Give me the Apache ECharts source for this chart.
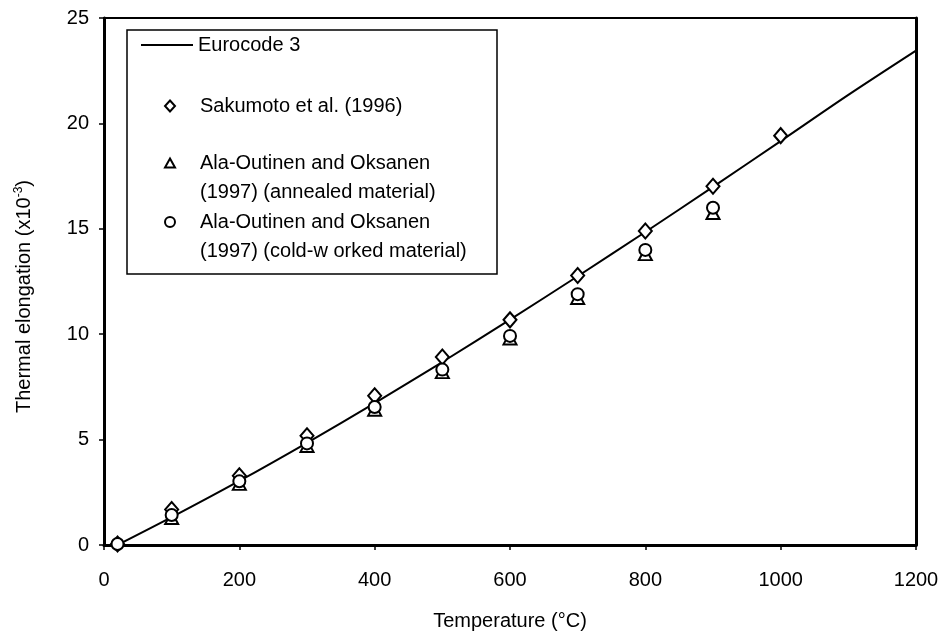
<!DOCTYPE html>
<html>
<head>
<meta charset="utf-8">
<script src="https://cdn.jsdelivr.net/npm/echarts@6/dist/echarts.min.js"></script>
<style>
  html, body { margin: 0; padding: 0; background: #fff; }
  #chart { width: 943px; height: 636px; }
</style>
</head>
<body>
<div id="chart"></div>
<script>
// Thermal elongation of stainless steel vs temperature
const FONT = '"Liberation Sans", Arial, sans-serif';

// Eurocode 3 curve (temperature in °C, elongation in x10^-3)
const ecTemps  = [20, 100, 200, 300, 400, 500, 600, 700, 800, 900, 1000, 1100, 1200];
const ecValues = [0, 1.32, 3.04, 4.85, 6.73, 8.68, 10.69, 12.75, 14.85, 16.99, 19.16, 21.35, 23.45];

// Sakumoto et al. (1996)
const sakTemps  = [20, 100, 200, 300, 400, 500, 600, 700, 800, 900, 1000];
const sakValues = [0.05, 1.68, 3.28, 5.18, 7.08, 8.92, 10.68, 12.78, 14.9, 17.02, 19.42];

// Ala-Outinen and Oksanen (1997), annealed material
const annTemps  = [20, 100, 200, 300, 400, 500, 600, 700, 800, 900];
const annValues = [-0.05, 1.28, 2.9, 4.7, 6.42, 8.2, 9.8, 11.72, 13.8, 15.75];

// Ala-Outinen and Oksanen (1997), cold-worked material
const cwTemps  = [20, 100, 200, 300, 400, 500, 600, 700, 800, 900];
const cwValues = [0.05, 1.42, 3.02, 4.82, 6.55, 8.32, 9.92, 11.9, 14.0, 16.0];

const xTicks = { min: 0, max: 1200, interval: 200 };
const yTicks = { min: 0, max: 25, interval: 5 };

// Series names; the two-line entries are split into first line (legend) and second line (note)
const ecName  = 'Eurocode 3';
const sakName = 'Sakumoto et al. (1996)';
const annName = ['Ala-Outinen and Oksanen', '(1997) (annealed material)'];
const cwName  = ['Ala-Outinen and Oksanen', '(1997) (cold-w orked material)'];

const annKey = annName.join(' ');
const cwKey = cwName.join(' ');

const pairs = (xs, ys) => xs.map((x, i) => [x, ys[i]]);

const markerStyle = { color: '#fff', borderColor: '#000', borderWidth: 2, opacity: 1 };
const iconStyle = { color: '#fff', borderColor: '#000', borderWidth: 2, opacity: 1 };

const legendText = { fontFamily: FONT, fontSize: 20, lineHeight: 30, color: '#000' };
const legendTextPad = Object.assign({}, legendText, { padding: [0, 0, 0, 20] });

const firstLine = name => (name === annKey ? annName[0] : name === cwKey ? cwName[0] : name);

const chart = echarts.init(document.getElementById('chart'), null, { renderer: 'canvas' });

chart.setOption({
  backgroundColor: '#fff',
  animation: false,
  grid: {
    left: 104, right: 27, top: 18, bottom: 91,
    show: true, borderColor: '#000', borderWidth: 2
  },
  graphic: [
    {
      type: 'rect', z: 50,
      shape: { x: 127, y: 30, width: 370, height: 244 },
      style: { fill: '#fff', stroke: '#000', lineWidth: 1.5 }
    },
    {
      type: 'text', z: 60, x: 200, y: 192,
      style: { text: annName[1], font: '20px ' + FONT, fill: '#000', verticalAlign: 'middle' }
    },
    {
      type: 'text', z: 60, x: 200, y: 251,
      style: { text: cwName[1], font: '20px ' + FONT, fill: '#000', verticalAlign: 'middle' }
    }
  ],
  legend: [
    { data: [{ name: ecName, icon: 'rect', itemStyle: { color: '#000', borderWidth: 0, opacity: 1 } }],
      left: 141, top: 30, padding: 0, itemWidth: 52, itemHeight: 2,
      textStyle: legendText, z: 60, selectedMode: false },
    { data: [{ name: sakName, icon: 'diamond', itemStyle: iconStyle }],
      left: 164, top: 91, padding: 0, itemWidth: 10, itemHeight: 11,
      textStyle: legendTextPad, z: 60, selectedMode: false },
    { data: [{ name: annKey, icon: 'triangle', itemStyle: iconStyle }],
      left: 164, top: 148, padding: 0, itemWidth: 10, itemHeight: 9,
      formatter: firstLine, textStyle: legendTextPad, z: 60, selectedMode: false },
    { data: [{ name: cwKey, icon: 'circle', itemStyle: iconStyle }],
      left: 164, top: 207, padding: 0, itemWidth: 10, itemHeight: 10,
      formatter: firstLine, textStyle: legendTextPad, z: 60, selectedMode: false }
  ],
  xAxis: {
    type: 'value',
    min: xTicks.min, max: xTicks.max, interval: xTicks.interval,
    name: 'Temperature (°C)',
    nameLocation: 'middle', nameGap: 66,
    nameTextStyle: { fontFamily: FONT, fontSize: 20, color: '#000' },
    axisLine: { show: true, onZero: false, lineStyle: { color: '#000', width: 3 } },
    axisTick: { show: true, inside: false, length: 5, lineStyle: { color: '#000', width: 1.5 } },
    axisLabel: { fontFamily: FONT, fontSize: 20, color: '#000', margin: 25, formatter: v => String(v) },
    splitLine: { show: false }
  },
  yAxis: [{
    type: 'value',
    min: yTicks.min, max: yTicks.max, interval: yTicks.interval,
    name: 'Thermal elongation (x10{sup|-3})',
    nameLocation: 'middle', nameGap: 69, nameRotate: 90,
    nameTextStyle: {
      fontFamily: FONT, fontSize: 20, color: '#000', padding: [0, 30, 0, 0],
      rich: { sup: { fontFamily: FONT, fontSize: 12, color: '#000', verticalAlign: 'bottom', padding: [0, 0, 10, 0] } }
    },
    axisLine: { show: true, onZero: false, lineStyle: { color: '#000', width: 3 } },
    axisTick: { show: true, inside: false, length: 5, lineStyle: { color: '#000', width: 1.5 } },
    axisLabel: { fontFamily: FONT, fontSize: 20, color: '#000', margin: 15 },
    splitLine: { show: false }
  }, {
    type: 'value', position: 'right',
    min: yTicks.min, max: yTicks.max, interval: yTicks.interval,
    axisLine: { show: true, onZero: false, lineStyle: { color: '#000', width: 3 } },
    axisTick: { show: false }, axisLabel: { show: false }, splitLine: { show: false }
  }],
  series: [
    {
      name: ecName, type: 'line', data: pairs(ecTemps, ecValues),
      smooth: 0.3, symbol: 'none', z: 3,
      lineStyle: { color: '#000', width: 2 }, itemStyle: { color: '#000' }
    },
    {
      name: sakName, type: 'scatter', data: pairs(sakTemps, sakValues),
      symbol: 'diamond', symbolSize: [13, 15], z: 5, itemStyle: markerStyle
    },
    {
      name: annKey, type: 'scatter', data: pairs(annTemps, annValues),
      symbol: 'triangle', symbolSize: [13, 12], z: 4, itemStyle: markerStyle
    },
    {
      name: cwKey, type: 'scatter', data: pairs(cwTemps, cwValues),
      symbol: 'circle', symbolSize: 12, z: 6, itemStyle: markerStyle
    }
  ]
});
</script>
</body>
</html>
